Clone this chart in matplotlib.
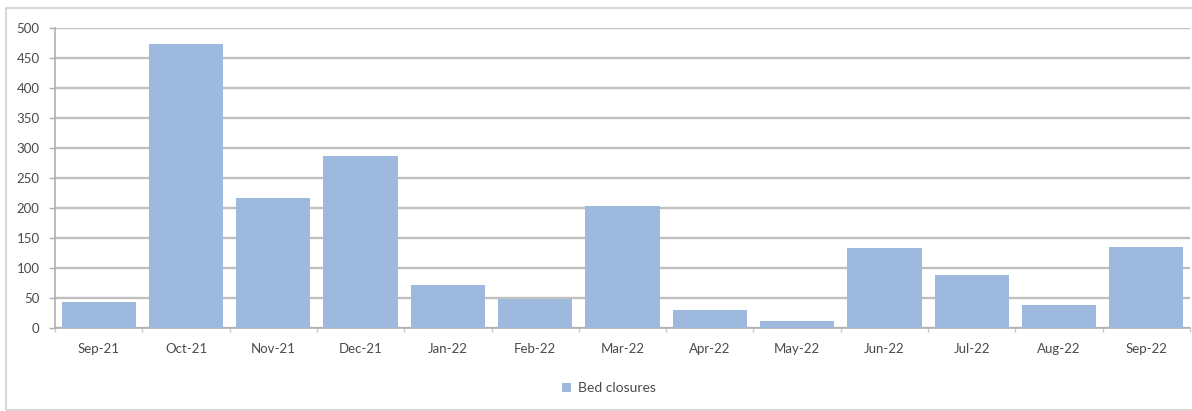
import matplotlib
matplotlib.use("Agg")
import matplotlib.pyplot as plt
from matplotlib.patches import Rectangle

months = ["Sep-21", "Oct-21", "Nov-21", "Dec-21", "Jan-22", "Feb-22", "Mar-22",
          "Apr-22", "May-22", "Jun-22", "Jul-22", "Aug-22", "Sep-22"]
bed_closures = [43, 473, 217, 287, 72, 49, 203, 30, 12, 133, 88, 39, 135]
y_ticks = [0, 50, 100, 150, 200, 250, 300, 350, 400, 450, 500]

bar_color = "#9db9de"
text_color = "#4a4a4a"
grid_color = "#c0c0c0"

plt.rcParams["font.family"] = ["Lato", "DejaVu Sans"]

fig = plt.figure(figsize=(11.92, 4.11), dpi=100)
fig.patch.set_facecolor("white")

# outer chart-area frame
fig.patches.append(Rectangle((6 / 1192, 1 / 411), 1.2, 402 / 411,
                             transform=fig.transFigure, fill=False,
                             edgecolor="#d0d0d0", linewidth=1.2))

ax = fig.add_axes([55 / 1192, 1 - 328 / 411, (1190 - 55) / 1192, 300 / 411])
x = range(len(months))
bars = ax.bar(x, bed_closures, width=0.85, color=bar_color, label="Bed closures",
              zorder=3)

ax.set_xlim(-0.5, len(months) - 0.5)
ax.set_ylim(0, 500)
ax.set_yticks(y_ticks)
ax.set_yticklabels([str(v) for v in y_ticks])
ax.yaxis.grid(True, color=grid_color, linewidth=1.7, zorder=0)
ax.set_axisbelow(True)

ax.set_xticks(list(x))
ax.set_xticklabels(months)
ax.set_xticks([i - 0.5 for i in range(len(months) + 1)], minor=True)
ax.tick_params(axis="x", which="major", length=0, pad=11, labelsize=9.5,
               colors=text_color)
ax.tick_params(axis="x", which="minor", length=3, color="#c8c8c8", width=1)
ax.tick_params(axis="y", length=4, color="#b0b0b0", width=1, pad=7,
               labelsize=9.5, colors=text_color)

for side in ["top", "right"]:
    ax.spines[side].set_visible(False)
ax.spines["left"].set_color("#b0b0b0")
ax.spines["bottom"].set_color("#b0b0b0")
ax.spines["left"].set_linewidth(1.2)
ax.spines["bottom"].set_linewidth(1.2)

fig.legend(handles=[bars], labels=["Bed closures"], loc="center",
           bbox_to_anchor=(609 / 1192, 1 - 388 / 411), frameon=False,
           fontsize=10, labelcolor=text_color, handlelength=0.6,
           handleheight=0.6, handletextpad=0.5)

fig.savefig("out.png", dpi=100)
